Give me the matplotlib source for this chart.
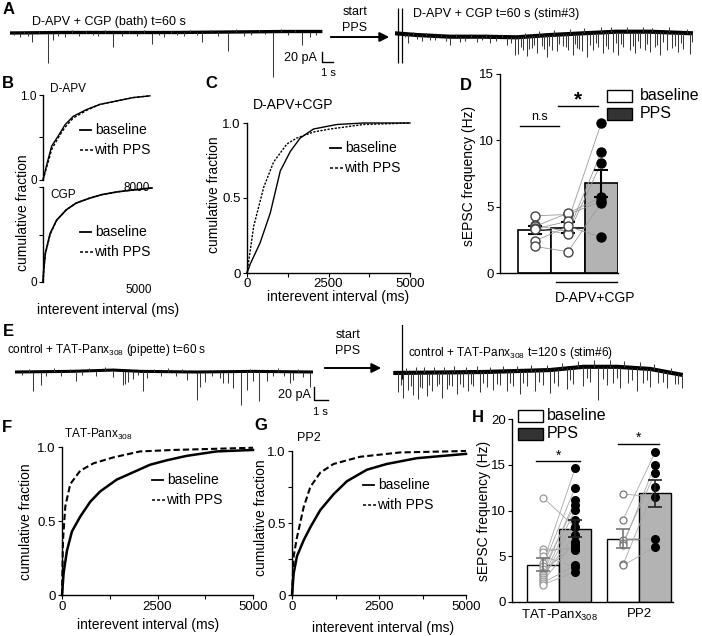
import numpy as np
import matplotlib
matplotlib.use("Agg")
import matplotlib.pyplot as plt
from matplotlib.patches import Rectangle

plt.rcParams['font.family'] = ['Liberation Sans', 'DejaVu Sans']
plt.rcParams['mathtext.default'] = 'regular'
plt.rcParams['axes.linewidth'] = 1.0
plt.rcParams['axes.facecolor'] = 'none'

W, H = 702, 636

# ---------------- traces (time in s, current in pA, 0 = start baseline) ----------------
# negative amplitudes are small upward noise blips
a1_knot_t = [0, 5, 10, 15, 20, 25, 28.4]
a1_knot_v = [0, 1, 1, 1, 2, 3, 3]
a1_ev_t = [0.9, 2.0, 3.45, 3.9, 5.0, 8.0, 9.36, 12.9, 14.0, 15.8, 17.45, 19.8, 21.3, 23.9, 26.5, 27.3,
           0.4, 1.3, 1.6, 2.6, 4.4, 5.6, 6.3, 6.9, 7.5, 8.6, 10.2, 10.8, 11.5, 12.2, 13.5, 14.6,
           15.2, 16.4, 17.0, 18.3, 18.9, 20.5, 21.9, 22.6, 23.2, 24.6, 25.3, 25.9, 27.8]
a1_ev_a = [8, 18, 60, 14, 8, 7, 28, 22, 8, 7, 20, 38, 8, 90, 26, 10,
           5, -4, 6, -4, 6, -5, 7, -4, 5, -5, 6, -4, 7, -5, 5, -4,
           6, -5, 6, -4, 7, -5, 6, -4, 5, -5, 6, -4, 6]

a2_knot_t = [0, 1.97, 5.0, 8.03, 11.06, 14.09, 17.12, 20.15, 23.18, 27.1]
a2_knot_v = [-0.6, -4, -7.4, -7.4, -8.6, -4, -0.6, 2.6, 2.6, -0.6]
a2_stim_t = [0.27, 0.64]
a2_ev_t = [1.21, 2.42, 3.18, 5.0, 5.9, 7.42, 8.64, 10.15, 10.9, 11.2, 11.67, 11.97, 12.42,
           12.88, 13.33, 13.79, 14.24, 14.7, 15.3, 15.76, 16.15, 16.52, 16.97, 17.42, 18.03,
           18.48, 18.94, 19.39, 19.85, 20.3, 20.76, 21.36, 21.82, 22.27, 22.73, 23.18, 23.64,
           24.09, 24.7, 25.15, 25.76, 26.21, 26.82,
           0.9, 1.6, 2.0, 2.8, 3.6, 4.2, 4.6, 5.5, 6.4, 6.9, 7.9, 8.3, 9.2, 9.7, 10.5,
           11.45, 11.8, 12.15, 12.65, 13.1, 13.55, 14.0, 14.45, 14.95, 15.5, 15.95, 16.35,
           16.75, 17.2, 17.7, 18.25, 18.7, 19.15, 19.6, 20.05, 20.5, 21.1, 21.6, 22.05, 22.5,
           22.95, 23.4, 23.85, 24.4, 24.9, 25.45, 26.0, 26.5, 27.0]
a2_ev_a = [18, 12, 8, 17, 10, 10, 13, 16, 36, 33, 26, 39, 23, 34, 21, 43, 30, 33, 24, 31,
           42, 29, 36, 47, 34, 28, 42, 33, 40, 46, 30, 36, 43, 33, 36, 40, 30, 46, 36, 30,
           38, 32, 42,
           6, -5, 7, -5, 8, -4, 9, -5, 8, -5, 7, -5, 9, -4, 12,
           20, -8, 25, 18, -9, 28, 22, -10, 19, 26, -9, 21,
           30, -10, 24, 20, -11, 27, -9, 22, 25, -10, 28, 18, -9,
           24, -8, 27, 20, -10, 26, 21, -9, 18]

e1_knot_t = [0, 4, 7, 9, 13, 17, 21.3]
e1_knot_v = [0, 1, 3, 1, 0, 1, 0]
e1_ev_t = [1.31, 1.83, 4.36, 7.02, 7.69, 7.86, 8.1, 8.45, 9.17, 9.4, 12.26, 12.98, 13.21,
           13.57, 14.64, 14.88, 15.24, 15.6, 16.12, 16.55, 17.02, 17.45, 17.98, 19.64, 19.83, 21.07,
           0.5, 1.0, 2.2, 2.8, 3.3, 3.9, 4.8, 5.3, 5.8, 6.4, 8.8, 9.9, 10.4, 10.9, 11.5, 11.9,
           14.1, 16.8, 18.4, 18.8, 19.2, 20.2, 20.6]
e1_ev_a = [30, 20, 15, 10, 23, 20, 17, 12, 30, 10, 12, 43, 23, 15, 10, 17, 17, 25, 51, 28,
           15, 46, 15, 17, 12, 23,
           5, -4, 6, -5, 7, -4, 6, -4, 8, -5, 6, -4, 7, -5, 6, -4,
           6, -4, 7, -5, 6, -4, 8]

e2_knot_t = [0.02, 6.45, 8.83, 11.2, 13.6, 16.0, 18.4, 20.7]
e2_knot_v = [-1.5, 0, 1.5, 3, 8, 8, 4.6, -4.6]
e2_stim_t = [0.64]
e2_ev_t = [0.38, 0.74, 1.09, 1.45, 1.81, 2.05, 2.41, 2.76, 3.12, 3.48, 3.83, 4.19, 4.55, 5.02,
           5.38, 5.74, 6.21, 6.69, 7.17, 7.64, 8.12, 8.6, 9.07, 9.55, 10.14, 10.74, 11.21, 11.81,
           12.4, 12.88, 13.6, 14.07, 14.67, 15.26, 15.74, 16.21, 16.81, 17.4, 17.88, 18.36,
           18.95, 19.55, 20.14, 20.62,
           0.56, 0.92, 1.27, 1.63, 1.93, 2.23, 2.58, 2.94, 3.3, 3.65, 4.01, 4.37, 4.78, 5.2,
           5.56, 5.97, 6.45, 6.93, 7.4, 7.88, 8.36, 8.83, 9.31, 9.85, 10.44, 10.97, 11.5, 12.1,
           12.64, 13.24, 13.84, 14.37, 14.97, 15.5, 15.98, 16.5, 17.1, 17.64, 18.12, 18.65,
           19.25, 19.85, 20.38]
e2_ev_a = [29, 39, 26, 34, 41, 23, 36, 29, 21, 39, 26, 21, 34, 23, 29, 21, 31, 23, 28, 20,
           30, 23, 35, 23, 31, 23, 36, 26, 31, 25, 30, 23, 51, 28, 25, 33, 23, 35, 22, 27,
           20, 25, 16, 21,
           18, -8, 20, -9, 22, -8, 19, -9, 17, -8, 20, -9, 18, -8,
           19, -9, 17, -8, 19, -9, 18, -8, 19, -9, 18, -8, 20, -9,
           18, -10, 17, -10, 18, -10, 17, -9, 18, -9, 17, -8,
           16, -8, 15]

# ---------------- cumulative distributions ----------------
bapv_x = [0, 277, 650, 1146, 1645, 2268, 3265, 4262, 5510, 6757, 8000]
bapv_base = [0, 0.18, 0.40, 0.52, 0.65, 0.75, 0.83, 0.89, 0.93, 0.97, 0.99]
bapv_pps = [0, 0.15, 0.36, 0.50, 0.62, 0.73, 0.82, 0.89, 0.93, 0.97, 0.99]

cgp_x = [0, 30, 104, 326, 623, 1068, 1514, 2107, 2700, 3443, 4185, 5000]
cgp_base = [0, 0.12, 0.30, 0.51, 0.65, 0.76, 0.83, 0.88, 0.92, 0.95, 0.97, 0.99]
cgp_pps = [0, 0.11, 0.29, 0.50, 0.65, 0.76, 0.83, 0.88, 0.92, 0.95, 0.97, 0.99]

c_base_x = [0, 100, 400, 714, 1020, 1327, 1633, 2040, 2755, 3571, 5000]
c_base_y = [0, 0.06, 0.20, 0.40, 0.68, 0.81, 0.90, 0.96, 0.99, 1.0, 1.0]
c_pps_x = [0, 204, 510, 816, 1224, 1530, 2040, 2551, 3571, 5000]
c_pps_y = [0, 0.31, 0.57, 0.74, 0.86, 0.90, 0.94, 0.96, 0.99, 1.0]

f_base_x = [0, 43, 130, 261, 478, 739, 1000, 1435, 1870, 2304, 2739, 3261, 4043, 5000]
f_base_y = [0, 0.15, 0.30, 0.43, 0.53, 0.63, 0.70, 0.78, 0.83, 0.88, 0.91, 0.94, 0.97, 0.98]
f_pps_x = [0, 26, 87, 217, 478, 826, 1348, 2043, 2913, 5000]
f_pps_y = [0, 0.37, 0.60, 0.75, 0.84, 0.89, 0.93, 0.97, 0.98, 0.995]

g_base_x = [0, 48, 143, 335, 526, 813, 1195, 1578, 2151, 2725, 3585, 5000]
g_base_y = [0, 0.15, 0.27, 0.38, 0.47, 0.59, 0.70, 0.79, 0.87, 0.91, 0.95, 0.98]
g_pps_x = [0, 48, 143, 335, 526, 813, 1195, 1960, 3107, 5000]
g_pps_y = [0, 0.27, 0.40, 0.61, 0.75, 0.85, 0.91, 0.96, 0.99, 1.0]

# ---------------- bar graphs (Hz) ----------------
d_means = [3.2, 3.42, 6.75]
d_sem = [0.3, 0.38, 1.0]
d_base1 = [4.3, 3.6, 3.5, 3.4, 3.3, 2.4, 2.0]
d_base2 = [4.4, 3.1, 4.5, 2.9, 3.9, 3.5, 1.6]
d_pps = [5.4, 9.1, 5.7, 8.3, 11.3, 2.7, 5.3]

h_groups = ['TAT-Panx$_{308}$', 'PP2']
h_means = [4.07, 8.03, 6.93, 11.86]
h_sem = [0.7, 0.95, 1.05, 1.5]
h_tat_base = [11.4, 5.8, 5.5, 5.0, 4.3, 3.9, 3.6, 3.3, 3.1, 2.9, 2.7, 2.5, 2.3, 2.1, 1.9]
h_tat_pps = [8.2, 5.7, 6.0, 3.8, 14.6, 12.5, 10.6, 6.3, 11.1, 7.3, 10.1, 9.0, 6.6, 4.0, 3.3]
h_pp2_base = [11.8, 9.0, 6.8, 6.5, 6.2, 4.1, 4.0]
h_pp2_pps = [11.5, 16.35, 6.9, 14.05, 15.0, 12.6, 6.0]

PPS_GREY = '#b3b3b3'

fig = plt.figure(figsize=(W / 100, H / 100), dpi=100)


def box(x0, y0, x1, y1):
    return fig.add_axes([x0 / W, 1 - y1 / H, (x1 - x0) / W, (y1 - y0) / H])


def trace(ax, kt, kv, ev_t, ev_a, lw, tmax, ylim):
    ax.plot(kt, kv, color='black', lw=lw, solid_capstyle='butt')
    base = np.interp(ev_t, kt, kv)
    ax.vlines(ev_t, base, base - np.asarray(ev_a), color='#3a3a3a', lw=0.75)
    ax.set_xlim(0, tmax)
    ax.set_ylim(*ylim)
    ax.axis('off')


# A traces
ax_a1 = box(10, 0, 323, 90)
trace(ax_a1, a1_knot_t, a1_knot_v, a1_ev_t, a1_ev_a, 2.4, 313 / 11, (-114, 66))
ax_a1.plot([28.36, 28.36, 29.36], [-38, -58, -58], color='black', lw=1, clip_on=False)
ax_a2 = box(395, 0, 693, 90)
trace(ax_a2, a2_knot_t, a2_knot_v, a2_ev_t, a2_ev_a, 3.0, 298 / 11, (-114, 66))
ax_a2.vlines(a2_stim_t, -60, 50, color='black', lw=0.9)

# E traces
ax_e1 = box(15, 325, 313, 425)
trace(ax_e1, e1_knot_t, e1_knot_v, e1_ev_t, e1_ev_a, 2.2, 298 / 14, (-81.5, 72.3))
ax_e1.plot([21.36, 21.36, 22.36], [-23, -43, -43], color='black', lw=1, clip_on=False)
ax_e2 = box(393, 325, 683, 425)
trace(ax_e2, e2_knot_t, e2_knot_v, e2_ev_t, e2_ev_a, 3.0, 290 / 14, (-81.5, 72.3))
ax_e2.vlines(e2_stim_t, -10, 88, color='black', lw=0.9)


def cdf(ax, xmax, xt, xl, yt, yl, fs):
    ax.set_xlim(0, xmax)
    ax.set_ylim(0, 1)
    for s in ['top', 'right']:
        ax.spines[s].set_visible(False)
    ax.set_xticks(xt)
    ax.set_xticklabels(xl, fontsize=fs)
    ax.set_yticks(yt)
    ax.set_yticklabels(yl, fontsize=fs)
    ax.tick_params(direction='out', length=3, width=0.8, pad=1.5)


# B
ax_b1 = box(43, 95, 150, 180)
ax_b1.plot(bapv_x, bapv_base, color='black', lw=1.0, clip_on=False)
ax_b1.plot(bapv_x, bapv_pps, color='black', lw=1.0, ls=(0, (2, 1.2)), clip_on=False)
cdf(ax_b1, 8000, [8000], ['8000'], [0, 0.5, 1.0], ['0', '', '1.0'], 8.5)
ax_b1.spines['bottom'].set_visible(False)
ax_b1.tick_params(axis='x', length=0)
ax_b1.get_xticklabels()[0].set_ha('right')

ax_b2 = box(43, 187, 152, 282)
ax_b2.plot(cgp_x, cgp_base, color='black', lw=1.2, clip_on=False)
ax_b2.plot(cgp_x, cgp_pps, color='black', lw=1.0, ls=(0, (2, 1.2)), clip_on=False)
cdf(ax_b2, 5000, [5000], ['5000'], [0, 0.5, 1.0], ['0', '', ''], 8.5)
ax_b2.spines['bottom'].set_visible(False)
ax_b2.tick_params(axis='x', length=0)
ax_b2.get_xticklabels()[0].set_ha('right')

# C
ax_c = box(247, 123, 410, 273)
ax_c.plot(c_base_x, c_base_y, color='black', lw=1.0, clip_on=False)
ax_c.plot(c_pps_x, c_pps_y, color='black', lw=1.0, ls=(0, (1.6, 1.0)), clip_on=False)
cdf(ax_c, 5000, [0, 1250, 2500, 3750, 5000], ['0', '', '2500', '', '5000'],
    [0, 0.5, 1.0], ['0', '0.5', '1.0'], 9.5)
ax_c.tick_params(axis='x', pad=0.5)

# F
ax_f = box(62, 447, 253, 595)
ax_f.plot(f_base_x, f_base_y, color='black', lw=1.8, clip_on=False)
ax_f.plot(f_pps_x, f_pps_y, color='black', lw=1.5, ls=(0, (3, 1.5)), clip_on=False)
cdf(ax_f, 5000, [0, 1250, 2500, 3750, 5000], ['0', '', '2500', '', '5000'],
    [0, 0.5, 1.0], ['0', '0.5', '1.0'], 9.5)

# G
ax_g = box(292, 451, 466, 595)
ax_g.plot(g_base_x, g_base_y, color='black', lw=1.8, clip_on=False)
ax_g.plot(g_pps_x, g_pps_y, color='black', lw=1.5, ls=(0, (3, 1.5)), clip_on=False)
cdf(ax_g, 5000, [0, 1250, 2500, 3750, 5000], ['0', '', '2500', '', '5000'],
    [0, 0.25, 0.5, 0.75, 1.0], ['0', '', '0.5', '', '1.0'], 9.5)


def bar_axes(ax, ymax, yt, fs):
    for s in ['top', 'right']:
        ax.spines[s].set_visible(False)
    ax.set_ylim(0, ymax)
    ax.set_yticks(yt)
    ax.set_yticklabels([str(v) for v in yt], fontsize=fs)
    ax.tick_params(direction='out', length=3, width=0.8, pad=1.5)


# D
ax_d = box(500, 73.5, 618, 273)
d_x = [0, 1, 2]
ax_d.bar(d_x, d_means, width=1.0, color=['white', 'white', PPS_GREY], edgecolor='black',
         lw=1.2, zorder=1)
for i in range(len(d_base1)):
    ax_d.plot(d_x, [d_base1[i], d_base2[i], d_pps[i]], color='#9a9a9a', lw=0.6, zorder=2)
ax_d.errorbar(d_x, d_means, yerr=d_sem, fmt='none', ecolor='black', elinewidth=1.5,
              capsize=5, capthick=1.5, zorder=3)
ax_d.plot([0] * len(d_base1), d_base1, 'o', ms=6.5, mfc='white', mec='#444444', mew=1, zorder=4)
ax_d.plot([1] * len(d_base2), d_base2, 'o', ms=6.5, mfc='white', mec='#444444', mew=1, zorder=4)
ax_d.plot([2] * len(d_pps), d_pps, 'o', ms=6.5, mfc='black', mec='black', zorder=4)
ax_d.set_xlim(-1.045, 2.5)
ax_d.set_xticks([])
bar_axes(ax_d, 15, [0, 5, 10, 15], 9.5)
ax_d.plot([-0.445, 0.727], [11.05, 11.05], color='black', lw=1, clip_on=False)
ax_d.text(0.14, 11.7, 'n.s', ha='center', va='center', fontsize=9)
ax_d.plot([0.697, 1.898], [12.55, 12.55], color='black', lw=1, clip_on=False)
ax_d.text(1.3, 13.0, '*', ha='center', va='center', fontsize=15, fontweight='bold')
ax_d.plot([0.637, 2.47], [-0.68, -0.68], color='black', lw=1, clip_on=False)
ax_d.text(1.81, -1.9, 'D-APV+CGP', ha='center', va='center', fontsize=10)

# H
ax_h = box(512, 419, 673, 602)
h_x = [0, 1, 2.5, 3.5]
ax_h.bar(h_x, h_means, width=1.0, color=['white', PPS_GREY, 'white', PPS_GREY],
         edgecolor='black', lw=1.0, zorder=1)
for i in range(len(h_tat_base)):
    ax_h.plot([0, 1], [h_tat_base[i], h_tat_pps[i]], color='#a8a8a8', lw=0.6, zorder=2)
for i in range(len(h_pp2_base)):
    ax_h.plot([2.5, 3.5], [h_pp2_base[i], h_pp2_pps[i]], color='#a8a8a8', lw=0.6, zorder=2)
ax_h.plot([0] * len(h_tat_base), h_tat_base, 'o', ms=5, mfc='white', mec='#999999', mew=0.9, zorder=4)
ax_h.plot([1] * len(h_tat_pps), h_tat_pps, 'o', ms=5.5, mfc='black', mec='black', zorder=4)
ax_h.plot([2.5] * len(h_pp2_base), h_pp2_base, 'o', ms=5, mfc='white', mec='#777777', mew=0.9, zorder=4)
ax_h.plot([3.5] * len(h_pp2_pps), h_pp2_pps, 'o', ms=5.5, mfc='black', mec='black', zorder=4)
ax_h.errorbar([0, 2.5], [h_means[0], h_means[2]], yerr=[h_sem[0], h_sem[2]], fmt='none',
              ecolor='#777777', elinewidth=1.2, capsize=5, capthick=1.2, zorder=5)
ax_h.errorbar([1, 3.5], [h_means[1], h_means[3]], yerr=[h_sem[1], h_sem[3]], fmt='none',
              ecolor='#222222', elinewidth=1.2, capsize=5, capthick=1.2, zorder=5)
ax_h.set_xlim(-0.97, 4.06)
ax_h.set_xticks([0.5, 3.0])
ax_h.set_xticklabels(h_groups, fontsize=9.5)
bar_axes(ax_h, 20, [0, 5, 10, 15, 20], 9.5)
ax_h.tick_params(axis='x', length=0, pad=4)
ax_h.plot([-0.22, 1.155], [15.4, 15.4], color='black', lw=1, clip_on=False)
ax_h.text(0.47, 16.0, '*', ha='center', va='center', fontsize=10)
ax_h.plot([2.34, 3.62], [17.27, 17.27], color='black', lw=1, clip_on=False)
ax_h.text(2.98, 17.9, '*', ha='center', va='center', fontsize=10)

# ---------------- overlay: labels, legends, arrows ----------------
ov = box(0, 0, W, H)
ov.set_xlim(0, W)
ov.set_ylim(H, 0)
ov.axis('off')


def t(x, y, s, fs=9, ha='left', va='center', **kw):
    ov.text(x, y, s, fontsize=fs, ha=ha, va=va, **kw)


for lab, x, y in [('A', 3, 10), ('B', 2, 84), ('C', 205, 84), ('D', 460, 85),
                  ('E', 3, 331), ('F', 2, 427), ('G', 254, 425), ('H', 472, 418)]:
    t(x, y, lab, fs=12, fontweight='bold')

t(32, 22, 'D-APV + CGP (bath) t=60 s', 9)
t(355, 12, 'start', 9, ha='center')
t(355, 28, 'PPS', 9, ha='center')
ov.annotate('', xy=(392, 37), xytext=(328, 37),
            arrowprops=dict(arrowstyle='-|>', color='black', lw=1.4, mutation_scale=14))
t(413, 14, 'D-APV + CGP t=60 s (stim#3)', 9)
t(317, 58, '20 pA', 9, ha='right')
t(328, 73, '1 s', 8, ha='center')

t(7, 350, 'control + TAT-Panx$_{308}$ (pipette) t=60 s', 8.5)
t(348, 335, 'start', 9, ha='center')
t(348, 351, 'PPS', 9, ha='center')
ov.annotate('', xy=(384, 368), xytext=(322, 368),
            arrowprops=dict(arrowstyle='-|>', color='black', lw=1.4, mutation_scale=14))
t(408, 353, 'control + TAT-Panx$_{308}$ t=120 s (stim#6)', 8.5)
t(311, 395, '20 pA', 9, ha='right')
t(320, 412, '1 s', 8, ha='center')

# panel titles
t(50, 89, 'D-APV', 8.5)
t(50, 195, 'CGP', 8.5)
t(253, 105, 'D-APV+CGP', 10)
t(64, 434, 'TAT-Panx$_{308}$', 8.5)
t(297, 438, 'PP2', 9)

# axis labels
t(108, 310, 'interevent interval (ms)', 10, ha='center')
t(338, 297, 'interevent interval (ms)', 10, ha='center')
t(148, 625, 'interevent interval (ms)', 10, ha='center')
t(383, 628, 'interevent interval (ms)', 10, ha='center')
t(23, 213, 'cumulative fraction', 10, ha='center', rotation=90)
t(214, 195, 'cumulative fraction', 10, ha='center', rotation=90)
t(26, 522, 'cumulative fraction', 10, ha='center', rotation=90)
t(261, 518, 'cumulative fraction', 10, ha='center', rotation=90)
t(469, 176, 'sEPSC frequency (Hz)', 10, ha='center', rotation=90)
t(484, 511, 'sEPSC frequency (Hz)', 10, ha='center', rotation=90)

# CDF legends
for x0, y0 in [(80, 130), (80, 232), (330, 148), (152, 480), (363, 485)]:
    ov.plot([x0, x0 + 11], [y0, y0], color='black', lw=1.3)
    t(x0 + 15, y0, 'baseline', 10)
    ov.plot([x0, x0 + 13], [y0 + 20, y0 + 20], color='black', lw=1.1, ls=(0, (2, 1.3)))
    t(x0 + 14, y0 + 20, 'with PPS', 10)

# bar legends
for bx, by, tx, fs in [(607, 90, 640, 11.5), (518, 410, 547, 11.5)]:
    ov.add_patch(Rectangle((bx, by), 25, 12, facecolor='white', edgecolor='black', lw=1))
    ov.add_patch(Rectangle((bx, by + 18), 25, 12, facecolor='#333333', edgecolor='black', lw=1))
    t(tx, by + 6, 'baseline', fs)
    t(tx, by + 24, 'PPS', fs)

fig.savefig('out.png', dpi=100, facecolor='white')
